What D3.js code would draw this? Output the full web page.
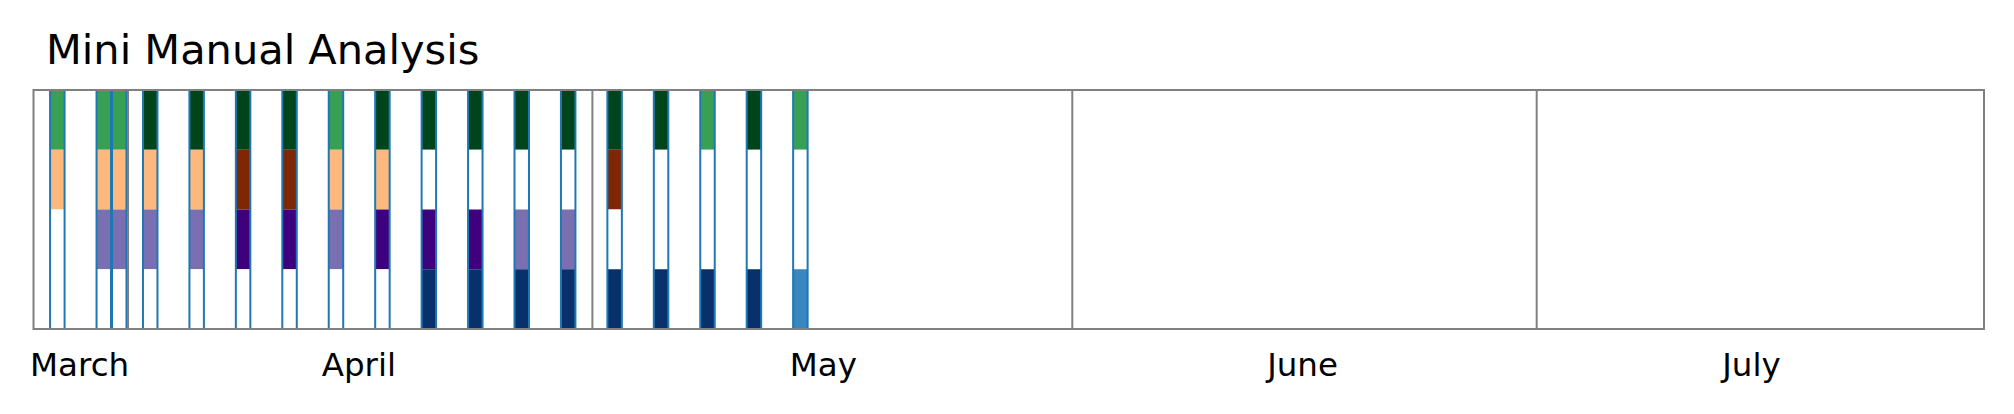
<!DOCTYPE html>
<html>
<head>
<meta charset="utf-8">
<script src="https://cdn.jsdelivr.net/npm/d3@7"></script>
<style>
  html, body { margin: 0; padding: 0; background: #fff; }
  svg { display: block; }
  text { font-family: "DejaVu Sans", sans-serif; fill: #000; }
</style>
</head>
<body>
<svg id="chart" width="2014" height="414"></svg>
<script>
// ---- data ----
const titleText = "Mini Manual Analysis";
const barDates = ["2023-03-27","2023-03-30","2023-03-31","2023-04-02","2023-04-05","2023-04-08",
                  "2023-04-11","2023-04-14","2023-04-17","2023-04-20","2023-04-23","2023-04-26",
                  "2023-04-29","2023-05-02","2023-05-05","2023-05-08","2023-05-11","2023-05-14"];
const rowNames = ["green", "orange", "purple", "blue"];
// level per bar: 0 = empty, 1 = light, 2 = dark
const greenLevels  = [1,1,1,2,2,2,2,1,2,2,2,2,2,2,2,1,2,1];
const orangeLevels = [1,1,1,1,1,2,2,1,1,0,0,0,0,2,0,0,0,0];
const purpleLevels = [0,1,1,1,1,2,2,1,2,2,2,1,1,0,0,0,0,0];
const blueLevels   = [0,0,0,0,0,0,0,0,0,2,2,2,2,2,2,2,2,1];
const monthLabels = ["March", "April", "May", "June", "July"];
const monthLabelDates = ["2023-03-28T21:00:00Z","2023-04-15T22:00:00Z","2023-05-15T22:00:00Z",
                         "2023-06-15T21:00:00Z","2023-07-14T21:00:00Z"];
const domainStart = "2023-03-25T21:30:00Z";
const domainEnd   = "2023-07-29T21:30:00Z";

(function () {
// ---- styles ----
const palettes = {
  green:  ["#ffffff", "#38a055", "#00441b"],
  orange: ["#ffffff", "#fdb97d", "#7f2704"],
  purple: ["#ffffff", "#7a6fb0", "#3f007d"],
  blue:   ["#ffffff", "#3787c0", "#08306b"]
};
const levelsByRow = { green: greenLevels, orange: orangeLevels, purple: purpleLevels, blue: blueLevels };

const mLeft = 33.5, mRight = 1984, mTop = 90, mBottom = 329;
const svg = d3.select("#chart");

const x = d3.scaleUtc()
  .domain([new Date(domainStart), new Date(domainEnd)])
  .range([mLeft, mRight]);
const y = d3.scaleBand().domain(rowNames).range([mTop, mBottom]).padding(0);

const parse = s => new Date(s + "T00:00:00Z");
const dates = barDates.map(parse);
const dayW = d => x(d3.utcDay.offset(d, 1)) - x(d);

// cells
const cells = [];
dates.forEach((d, i) => {
  rowNames.forEach(r => {
    cells.push({ d, r, level: levelsByRow[r][i] });
  });
});
svg.append("g").selectAll("rect")
  .data(cells)
  .join("rect")
  .attr("x", c => x(c.d) - 0.5)
  .attr("width", c => dayW(c.d) - 1)
  .attr("y", c => y(c.r))
  .attr("height", y.bandwidth())
  .attr("fill", c => palettes[c.r][c.level]);

// bar outlines
svg.append("g").selectAll("rect")
  .data(dates)
  .join("rect")
  .attr("x", d => x(d) - 0.5)
  .attr("width", d => dayW(d) - 1)
  .attr("y", mTop)
  .attr("height", mBottom - mTop)
  .attr("fill", "none")
  .attr("stroke", "#1f77b4")
  .attr("stroke-width", 2);

// month separators
const [d0, d1] = x.domain();
const monthStarts = d3.utcMonth.range(d3.utcMonth.ceil(d0), d1);
svg.append("g").selectAll("line")
  .data(monthStarts)
  .join("line")
  .attr("x1", d => x(d)).attr("x2", d => x(d))
  .attr("y1", mTop).attr("y2", mBottom)
  .attr("stroke", "#808080")
  .attr("stroke-width", 2);

// frame
svg.append("rect")
  .attr("x", mLeft).attr("y", mTop)
  .attr("width", mRight - mLeft).attr("height", mBottom - mTop)
  .attr("fill", "none")
  .attr("stroke", "#808080")
  .attr("stroke-width", 2);

// month labels
const labels = monthLabels.map((l, i) => ({ label: l, d: new Date(monthLabelDates[i]) }));
svg.append("g").selectAll("text")
  .data(labels)
  .join("text")
  .attr("x", s => x(s.d))
  .attr("y", 376)
  .attr("text-anchor", "middle")
  .attr("font-size", 32.5)
  .text(s => s.label);

// title
svg.append("text")
  .attr("x", 46)
  .attr("y", 64)
  .attr("font-size", 41.5)
  .text(titleText);
})();
</script>
</body>
</html>
